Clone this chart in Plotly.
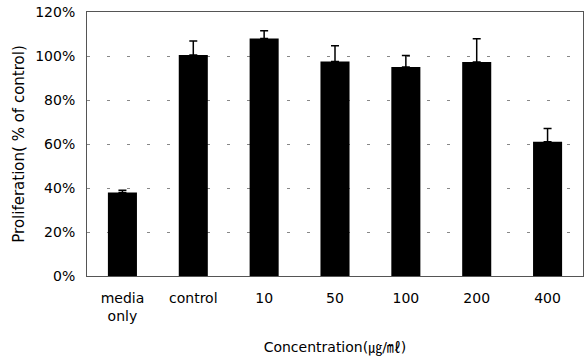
import plotly.graph_objects as go

categories = ["media<br>only", "control", "10", "50", "100", "200", "400"]
values = [38, 100.5, 108, 97.5, 95, 97.3, 61]
errors = [1, 6.3, 3.5, 7.2, 5.2, 10.5, 6]
y_ticks = [0, 20, 40, 60, 80, 100, 120]
y_tick_labels = ["0%", "20%", "40%", "60%", "80%", "100%", "120%"]

tick_font = dict(family="DejaVu Sans, sans-serif", size=14, color="black")
title_font = "DejaVu Sans, Noto Sans CJK KR, sans-serif"

fig = go.Figure(
    go.Bar(
        x=categories,
        y=values,
        width=0.41,
        marker=dict(color="black", line=dict(width=0)),
        error_y=dict(
            type="data",
            array=errors,
            symmetric=False,
            arrayminus=[0] * len(errors),
            color="black",
            thickness=1.5,
            width=4,
        ),
    )
)

fig.update_layout(
    width=584,
    height=359,
    margin=dict(l=87, r=1, t=12, b=83),
    paper_bgcolor="white",
    plot_bgcolor="white",
    showlegend=False,
    font=dict(family=title_font, size=14, color="black"),
    xaxis=dict(
        title=dict(
            text="Concentration(㎍/㎖)",
            font=dict(family=title_font, size=14, color="black"),
            standoff=19,
        ),
        showline=True,
        linecolor="#555555",
        linewidth=1,
        mirror=True,
        ticks="",
        ticklabelstandoff=9,
        showgrid=False,
        tickfont=tick_font,
    ),
    yaxis=dict(
        title=dict(
            text="Proliferation( % of control)",
            font=dict(family=title_font, size=15, color="black"),
            standoff=6,
        ),
        range=[0, 120],
        tickvals=y_ticks,
        ticktext=y_tick_labels,
        showline=True,
        linecolor="#555555",
        linewidth=1,
        mirror=True,
        ticks="",
        ticklabelstandoff=8,
        showgrid=True,
        gridcolor="#888888",
        gridwidth=1,
        griddash="3px,17px",
        zeroline=False,
        tickfont=tick_font,
    ),
)

fig.write_html("out.html")
